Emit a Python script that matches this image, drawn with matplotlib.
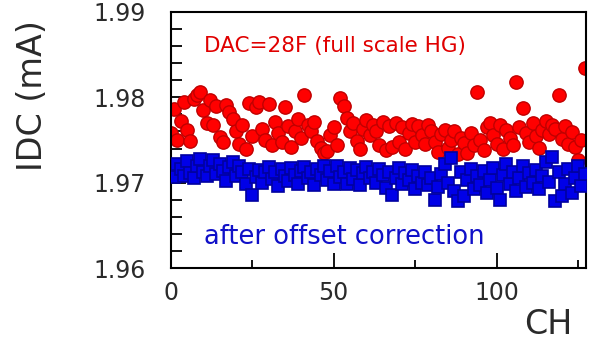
import numpy as np
from matplotlib import pyplot as plt
from matplotlib.ticker import MultipleLocator

# IDC per channel, full scale HG (DAC=28F)
idc_raw = [
    1.9758, 1.9786, 1.9750, 1.9772, 1.9795, 1.9762, 1.9749, 1.9798, 1.9803, 1.9806, 1.9785, 1.9770, 1.9797, 1.9768, 1.9790, 1.9754,
    1.9748, 1.9791, 1.9783, 1.9775, 1.9760, 1.9745, 1.9768, 1.9740, 1.9793, 1.9755, 1.9789, 1.9795, 1.9763, 1.9750, 1.9792, 1.9744,
    1.9771, 1.9758, 1.9748, 1.9789, 1.9766, 1.9742, 1.9760, 1.9775, 1.9752, 1.9803, 1.9768, 1.9760, 1.9771, 1.9749, 1.9741, 1.9735,
    1.9737, 1.9756, 1.9765, 1.9744, 1.9799, 1.9790, 1.9776, 1.9760, 1.9770, 1.9749, 1.9739, 1.9763, 1.9773, 1.9756, 1.9768, 1.9760,
    1.9744, 1.9771, 1.9738, 1.9766, 1.9742, 1.9770, 1.9748, 1.9765, 1.9740, 1.9758, 1.9769, 1.9748, 1.9766, 1.9756, 1.9745, 1.9768,
    1.9760, 1.9748, 1.9736, 1.9757, 1.9762, 1.9741, 1.9750, 1.9760, 1.9733, 1.9752, 1.9746, 1.9735, 1.9758, 1.9744, 1.9806, 1.9750,
    1.9738, 1.9765, 1.9770, 1.9756, 1.9745, 1.9768, 1.9740, 1.9762, 1.9752, 1.9744, 1.9818, 1.9765, 1.9787, 1.9758, 1.9748, 1.9770,
    1.9755, 1.9741, 1.9762, 1.9772, 1.9757, 1.9768, 1.9763, 1.9803, 1.9751, 1.9766, 1.9745, 1.9759, 1.9742, 1.9726, 1.9750, 1.9834,
]

# IDC per channel after offset correction
idc_corrected = [
    1.9712, 1.9707, 1.9722, 1.9716, 1.9708, 1.9725, 1.9711, 1.9706, 1.9720, 1.9728, 1.9713, 1.9708, 1.9719, 1.9726, 1.9710, 1.9722,
    1.9714, 1.9702, 1.9718, 1.9724, 1.9708, 1.9720, 1.9712, 1.9698, 1.9716, 1.9685, 1.9707, 1.9715, 1.9700, 1.9712, 1.9718, 1.9704,
    1.9713, 1.9696, 1.9716, 1.9708, 1.9702, 1.9717, 1.9709, 1.9699, 1.9714, 1.9718, 1.9705, 1.9712, 1.9697, 1.9716, 1.9709, 1.9720,
    1.9703, 1.9714, 1.9698, 1.9719, 1.9707, 1.9712, 1.9699, 1.9717, 1.9704, 1.9715, 1.9697, 1.9711, 1.9718, 1.9706, 1.9713, 1.9700,
    1.9716, 1.9709, 1.9694, 1.9712, 1.9686, 1.9705, 1.9717, 1.9699, 1.9711, 1.9703, 1.9715, 1.9692, 1.9708, 1.9700, 1.9713, 1.9697,
    1.9706, 1.9680, 1.9695, 1.9710, 1.9722, 1.9700, 1.9729, 1.9690, 1.9679, 1.9712, 1.9684, 1.9703, 1.9716, 1.9693, 1.9708, 1.9697,
    1.9714, 1.9688, 1.9703, 1.9717, 1.9694, 1.9680, 1.9709, 1.9722, 1.9698, 1.9712, 1.9690, 1.9706, 1.9719, 1.9695, 1.9711, 1.9700,
    1.9715, 1.9692, 1.9708, 1.9724, 1.9701, 1.9730, 1.9679, 1.9712, 1.9684, 1.9698, 1.9716, 1.9688, 1.9705, 1.9720, 1.9696, 1.9710,
]

channels = np.arange(len(idc_raw))

TEXT = '#2a2a2a'

fig = plt.figure(figsize=(5.91, 3.41), dpi=100)
ax = fig.add_axes([0.289, 0.214, 0.703, 0.751])

ax.plot(channels, idc_raw, 'o', ms=9.6, mfc='#ff0000', mec='#c00000', mew=1.0, zorder=2)
ax.plot(channels, idc_corrected, 's', ms=9.0, mfc='#0000e8', mec='#0000a0', mew=1.2, zorder=3)

ax.set_xlim(0, 127.5)
ax.set_ylim(1.96, 1.99)

ax.xaxis.set_major_locator(MultipleLocator(50))
ax.xaxis.set_minor_locator(MultipleLocator(25))
ax.yaxis.set_major_locator(MultipleLocator(0.01))
ax.yaxis.set_minor_locator(MultipleLocator(0.002))
ax.yaxis.set_major_formatter(plt.FuncFormatter(lambda v, _: f'{v:.2f}'))

ax.tick_params(axis='both', which='both', direction='in', color='black', width=1.3,
               top=False, right=False, labelcolor=TEXT, labelsize=17)
ax.tick_params(axis='y', which='major', length=11, pad=18)
ax.tick_params(axis='y', which='minor', length=8)
ax.tick_params(axis='x', which='major', length=11, pad=9)
ax.tick_params(axis='x', which='minor', length=6)

for spine in ax.spines.values():
    spine.set_linewidth(1.5)

ax.text(0.08, 0.867, 'DAC=28F (full scale HG)', transform=ax.transAxes,
        color='#e00000', fontsize=15.5, va='center', ha='left')
ax.text(0.08, 0.121, 'after offset correction', transform=ax.transAxes,
        color='#1010c8', fontsize=18.5, va='center', ha='left')

fig.text(0.055, 0.72, 'IDC (mA)', rotation=90, fontsize=24, color=TEXT, ha='center', va='center')
fig.text(0.968, 0.047, 'CH', fontsize=24, color=TEXT, ha='right', va='center')

fig.savefig('out.png', dpi=100)
